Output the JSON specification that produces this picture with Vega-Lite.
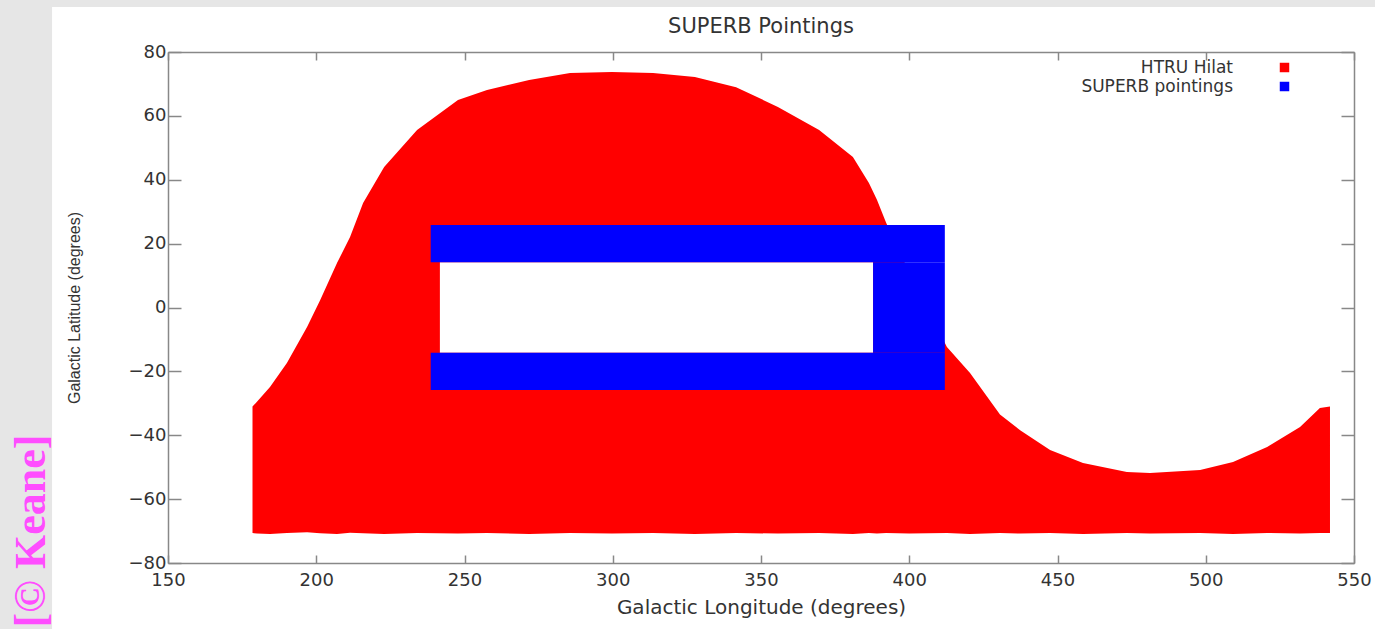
{
  "$schema": "https://vega.github.io/schema/vega-lite/v6.json",
  "width": 1186,
  "height": 511,
  "autosize": {"type": "none"},
  "padding": {"left": 168, "top": 52, "right": 21, "bottom": 66},
  "background": "#e6e6e6",
  "title": {"text": "SUPERB Pointings", "font": "DejaVu Sans", "fontSize": 21, "fontWeight": "normal", "color": "#333333", "anchor": "middle", "offset": 0, "dy": 30},
  "config": {"view": {"stroke": null}},
  "resolve": {"axis": {"x": "independent", "y": "independent"}},
  "layer": [
    {
      "data": {"values": [{}]},
      "mark": {"type": "rect", "fill": "white", "clip": false},
      "encoding": {
        "x": {"datum": 110.9, "type": "quantitative", "scale": {"domain": [150, 550], "nice": false, "zero": false}, "axis": null},
        "x2": {"datum": 620},
        "y": {"datum": -140, "type": "quantitative", "scale": {"domain": [-80, 80], "nice": false, "zero": false}, "axis": null},
        "y2": {"datum": 94.1}
      }
    },
    {
      "data": {"values": [
        {"lon": 178.5, "top": -31, "bottom": -70.6, "series": "HTRU Hilat"},
        {"lon": 180, "top": -29.5, "bottom": -70.8, "series": "HTRU Hilat"},
        {"lon": 184.4, "top": -24.9, "bottom": -70.9, "series": "HTRU Hilat"},
        {"lon": 190.1, "top": -17.4, "bottom": -70.6, "series": "HTRU Hilat"},
        {"lon": 196.9, "top": -6.1, "bottom": -70.4, "series": "HTRU Hilat"},
        {"lon": 201.3, "top": 2.3, "bottom": -70.7, "series": "HTRU Hilat"},
        {"lon": 207.0, "top": 13.9, "bottom": -70.9, "series": "HTRU Hilat"},
        {"lon": 211.4, "top": 22.1, "bottom": -70.5, "series": "HTRU Hilat"},
        {"lon": 215.8, "top": 32.7, "bottom": -70.7, "series": "HTRU Hilat"},
        {"lon": 222.9, "top": 44.0, "bottom": -70.9, "series": "HTRU Hilat"},
        {"lon": 234.0, "top": 55.6, "bottom": -70.6, "series": "HTRU Hilat"},
        {"lon": 247.8, "top": 65.0, "bottom": -70.8, "series": "HTRU Hilat"},
        {"lon": 257.6, "top": 68.1, "bottom": -70.6, "series": "HTRU Hilat"},
        {"lon": 271.8, "top": 71.2, "bottom": -70.9, "series": "HTRU Hilat"},
        {"lon": 285.6, "top": 73.4, "bottom": -70.6, "series": "HTRU Hilat"},
        {"lon": 299.7, "top": 73.7, "bottom": -70.8, "series": "HTRU Hilat"},
        {"lon": 313.6, "top": 73.4, "bottom": -70.6, "series": "HTRU Hilat"},
        {"lon": 327.7, "top": 72.2, "bottom": -70.9, "series": "HTRU Hilat"},
        {"lon": 341.6, "top": 69.0, "bottom": -70.6, "series": "HTRU Hilat"},
        {"lon": 355.7, "top": 62.8, "bottom": -70.8, "series": "HTRU Hilat"},
        {"lon": 369.6, "top": 55.6, "bottom": -70.6, "series": "HTRU Hilat"},
        {"lon": 381.0, "top": 47.1, "bottom": -70.9, "series": "HTRU Hilat"},
        {"lon": 386.4, "top": 39.0, "bottom": -70.6, "series": "HTRU Hilat"},
        {"lon": 389.1, "top": 33.7, "bottom": -70.8, "series": "HTRU Hilat"},
        {"lon": 392.2, "top": 26.5, "bottom": -70.6, "series": "HTRU Hilat"},
        {"lon": 400.0, "top": 11.0, "bottom": -70.8, "series": "HTRU Hilat"},
        {"lon": 412.7, "top": -12.4, "bottom": -70.6, "series": "HTRU Hilat"},
        {"lon": 420.5, "top": -20.5, "bottom": -70.9, "series": "HTRU Hilat"},
        {"lon": 430.6, "top": -33.5, "bottom": -70.6, "series": "HTRU Hilat"},
        {"lon": 437.4, "top": -38.4, "bottom": -70.8, "series": "HTRU Hilat"},
        {"lon": 447.5, "top": -44.6, "bottom": -70.6, "series": "HTRU Hilat"},
        {"lon": 458.6, "top": -48.7, "bottom": -70.9, "series": "HTRU Hilat"},
        {"lon": 473.4, "top": -51.5, "bottom": -70.6, "series": "HTRU Hilat"},
        {"lon": 481.2, "top": -51.8, "bottom": -70.8, "series": "HTRU Hilat"},
        {"lon": 498.1, "top": -50.9, "bottom": -70.6, "series": "HTRU Hilat"},
        {"lon": 509.2, "top": -48.4, "bottom": -70.9, "series": "HTRU Hilat"},
        {"lon": 520.7, "top": -43.7, "bottom": -70.6, "series": "HTRU Hilat"},
        {"lon": 531.8, "top": -37.4, "bottom": -70.8, "series": "HTRU Hilat"},
        {"lon": 538.5, "top": -31.5, "bottom": -70.6, "series": "HTRU Hilat"},
        {"lon": 541.9, "top": -31.0, "bottom": -70.6, "series": "HTRU Hilat"}
      ]},
      "mark": {"type": "area", "interpolate": "linear"},
      "encoding": {
        "x": {"field": "lon", "type": "quantitative",
          "axis": {"orient": "bottom", "values": [150, 200, 250, 300, 350, 400, 450, 500, 550], "grid": false, "zindex": 1,
            "domainColor": "#888888", "domainWidth": 1.5, "tickColor": "#888888", "tickWidth": 1.5, "tickSize": -8,
            "labelFont": "DejaVu Sans", "labelFontSize": 18, "labelColor": "#333333", "labelPadding": 16, "labelFlush": false,
            "title": "Galactic Longitude (degrees)", "titleFont": "DejaVu Sans", "titleFontSize": 20, "titleFontWeight": "normal", "titleColor": "#333333", "titlePadding": 8}},
        "y": {"field": "top", "type": "quantitative",
          "axis": {"orient": "left", "values": [-80, -60, -40, -20, 0, 20, 40, 60, 80], "grid": false, "zindex": 1,
            "domainColor": "#888888", "domainWidth": 1.5, "tickColor": "#888888", "tickWidth": 1.5, "tickSize": -13,
            "labelFont": "DejaVu Sans", "labelFontSize": 18, "labelColor": "#333333", "labelPadding": 15, "labelFlush": false,
            "title": "Galactic Latitude (degrees)", "titleFont": "Liberation Sans", "titleFontSize": 16, "titleFontWeight": "normal", "titleColor": "#333333", "titlePadding": 46}},
        "y2": {"field": "bottom"},
        "color": {"field": "series", "type": "nominal",
          "scale": {"domain": ["HTRU Hilat", "SUPERB pointings"], "range": ["#ff0000", "#0000ff"]},
          "legend": {"orient": "none", "legendX": 1061, "legendY": 7, "title": null, "symbolType": "square", "symbolSize": 90,
            "symbolStrokeWidth": 0, "labelAlign": "right", "labelOffset": -60, "symbolOffset": 47, "labelFont": "DejaVu Sans",
            "labelFontSize": 17, "labelColor": "#333333", "rowPadding": 1, "labelLimit": 400}}
      }
    },
    {
      "data": {"values": [
        {"lon1": 241.7, "lon2": 387.8, "lat1": -14.2, "lat2": 14.2}
      ]},
      "mark": {"type": "rect", "fill": "white"},
      "encoding": {
        "x": {"field": "lon1", "type": "quantitative",
          "axis": {"orient": "top", "values": [150, 200, 250, 300, 350, 400, 450, 500, 550], "grid": false, "zindex": 1, "labels": false, "title": null,
            "domainColor": "#888888", "domainWidth": 1.5, "tickColor": "#888888", "tickWidth": 1.5, "tickSize": -8}},
        "x2": {"field": "lon2"},
        "y": {"field": "lat1", "type": "quantitative",
          "axis": {"orient": "right", "values": [-80, -60, -40, -20, 0, 20, 40, 60, 80], "grid": false, "zindex": 1, "labels": false, "title": null,
            "domainColor": "#888888", "domainWidth": 1.5, "tickColor": "#888888", "tickWidth": 1.5, "tickSize": -13}},
        "y2": {"field": "lat2"}
      }
    },
    {
      "data": {"values": [
        {"lon1": 238.6, "lon2": 412.0, "lat1": 14.2, "lat2": 25.8, "series": "SUPERB pointings"},
        {"lon1": 238.6, "lon2": 412.0, "lat1": -25.8, "lat2": -14.2, "series": "SUPERB pointings"},
        {"lon1": 387.8, "lon2": 412.0, "lat1": -14.2, "lat2": 14.2, "series": "SUPERB pointings"}
      ]},
      "mark": {"type": "rect"},
      "encoding": {
        "x": {"field": "lon1", "type": "quantitative", "axis": null},
        "x2": {"field": "lon2"},
        "y": {"field": "lat1", "type": "quantitative", "axis": null},
        "y2": {"field": "lat2"},
        "color": {"field": "series", "type": "nominal"}
      }
    },
    {
      "data": {"values": [
        {"label": "[© Keane]", "lon": 104, "lat": -70}
      ]},
      "mark": {"type": "text", "angle": 270, "align": "center", "baseline": "middle", "font": "Liberation Serif", "fontWeight": "bold", "fontSize": 44, "fill": "#ff4dff", "clip": false},
      "encoding": {
        "x": {"field": "lon", "type": "quantitative", "axis": null},
        "y": {"field": "lat", "type": "quantitative", "axis": null},
        "text": {"field": "label"}
      }
    }
  ]
}
